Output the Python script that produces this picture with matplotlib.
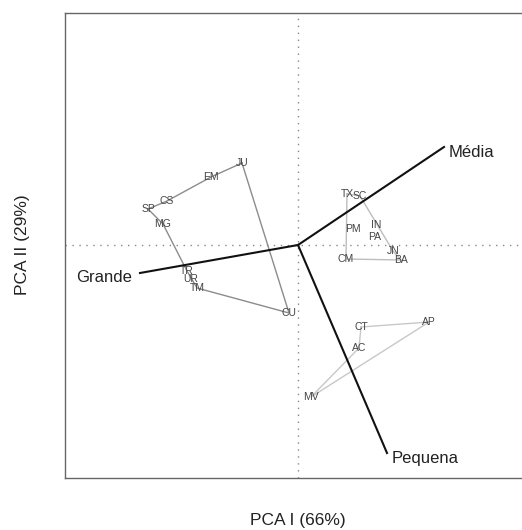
import matplotlib
matplotlib.use("Agg")
import matplotlib.pyplot as plt

plt.rcParams['font.family'] = ['Liberation Sans', 'DejaVu Sans']

# Site scores (PCA I, PCA II)
g1_labels = ["JU", "EM", "CS", "SP", "MG", "TR", "UR", "TM", "CU"]
g1_x = [-1.12, -1.74, -2.62, -3.00, -2.70, -2.22, -2.14, -2.02, -0.18]
g1_y = [1.64, 1.36, 0.88, 0.72, 0.42, -0.52, -0.68, -0.86, -1.36]
g1_hull = ["JU", "EM", "CS", "SP", "MG", "TR", "TM", "CU", "JU"]

g2_labels = ["TX", "SC", "PM", "IN", "PA", "JN", "BA", "CM"]
g2_x = [0.98, 1.24, 1.10, 1.56, 1.54, 1.90, 2.06, 0.96]
g2_y = [1.02, 0.98, 0.32, 0.40, 0.16, -0.12, -0.30, -0.28]
g2_hull = ["TX", "CM", "BA", "JN", "SC", "TX"]

g3_labels = ["CT", "AP", "AC", "MV"]
g3_x = [1.26, 2.62, 1.22, 0.26]
g3_y = [-1.64, -1.54, -2.06, -3.04]
g3_hull = ["CT", "AP", "MV", "AC", "CT"]

# Variable loadings (biplot arrows)
var_names = ["Grande", "Média", "Pequena"]
var_x = [-3.16, 2.92, 1.78]
var_y = [-0.56, 1.96, -4.16]

fig = plt.figure(figsize=(5.22, 5.30), dpi=100)
ax = fig.add_axes([65/522, 1 - 478/530, 463/522, 465/530])
ax.set_xlim(-4.66, 4.60)
ax.set_ylim(-4.66, 4.64)

ax.axhline(0, color="#888888", lw=1.0, ls=(0, (1, 4)), zorder=1)
ax.axvline(0, color="#888888", lw=1.0, ls=(0, (1, 4)), zorder=1)

groups = [
    (g1_labels, g1_x, g1_y, g1_hull, "#8c8c8c"),
    (g2_labels, g2_x, g2_y, g2_hull, "#bdbdbd"),
    (g3_labels, g3_x, g3_y, g3_hull, "#c8c8c8"),
]
for labels, xs, ys, hull, col in groups:
    pos = {l: (x, y) for l, x, y in zip(labels, xs, ys)}
    hx = [pos[h][0] for h in hull]
    hy = [pos[h][1] for h in hull]
    ax.plot(hx, hy, color=col, lw=1.0, zorder=2)
    for l, x, y in zip(labels, xs, ys):
        ax.text(x, y, l, fontsize=7.5, color="#444444", ha="center", va="center", zorder=4)

for name, vx, vy in zip(var_names, var_x, var_y):
    ax.plot([0, vx], [0, vy], color="#111111", lw=1.5, zorder=3)
    if vx < 0:
        ax.text(vx - 0.16, vy - 0.08, name, fontsize=12, ha="right", va="center", color="#222222")
    else:
        ax.text(vx + 0.1, vy - 0.1, name, fontsize=12, ha="left", va="center", color="#222222")

ax.set_xticks([])
ax.set_yticks([])
for s in ax.spines.values():
    s.set_color("#666666")
    s.set_linewidth(1.0)

fig.text(298/522, 1 - 520/530, "PCA I (66%)", fontsize=12.5, ha="center", va="center", color="#222222")
fig.text(23/522, 1 - 245/530, "PCA II (29%)", fontsize=12.5, ha="center", va="center", rotation=90, color="#222222")

fig.savefig("out.png", dpi=100)
